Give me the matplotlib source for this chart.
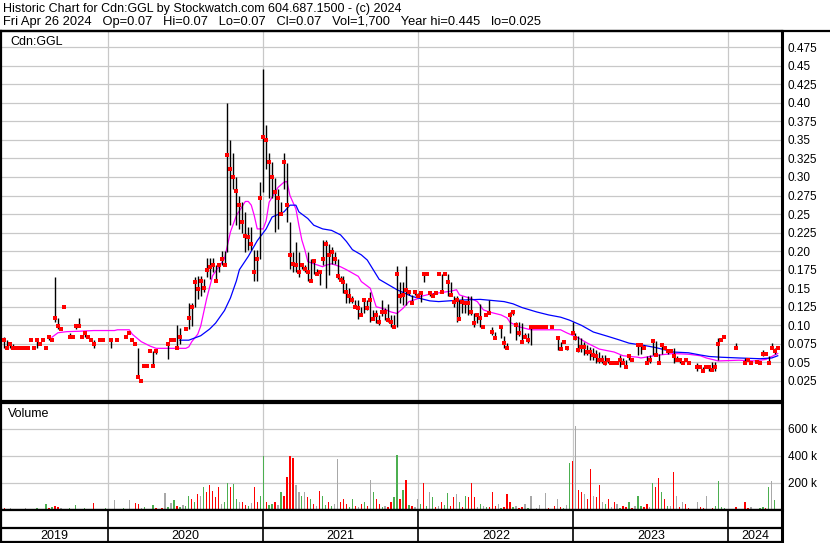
import numpy as np
import pandas as pd
import matplotlib
matplotlib.use('Agg')
import matplotlib.pyplot as plt
from matplotlib.lines import Line2D

plt.rcParams['font.family'] = ['Liberation Sans', 'DejaVu Sans']

# weekly bars for Cdn:GGL, first week ending 2019-05-03
start = '2019-05-03'
close = [.080,.069,.075,.069,.069,.069,.069,.069,.069,.080,
         .069,.080,.075,.080,.069,.084,.080,.110,.099,.095,
         .125,None,.084,.084,.099,.099,.084,.089,.084,.080,
         .075,None,.080,.080,None,None,.080,None,.080,None,
         None,.084,.089,.080,.075,.031,.025,.045,.045,.066,
         .045,.066,None,None,None,.075,.080,.080,.069,.084,
         None,.095,.110,.125,.159,.149,.160,.150,.175,.178,
         .181,.160,.181,.190,.181,.329,.311,.300,.281,.262,
         .239,.221,.219,.210,.172,.190,.271,.354,.350,.320,
         .300,.280,.271,.250,.320,.262,.195,.183,.181,.172,
         .181,.176,.172,.160,.187,.169,.172,.190,.210,.195,
         .199,.190,.166,.161,.159,.145,.139,.134,.125,.123,
         .114,.134,.123,.134,.109,.114,.105,.118,.118,.107,
         .105,.098,.169,.139,.141,.148,.145,.130,.145,.139,
         .144,.169,.169,.143,.139,.143,.169,.145,.169,.159,
         .141,.132,.134,.109,.132,.130,.130,.118,.103,.114,
         .110,.098,.114,.116,.091,.083,None,.098,.076,.069,
         .114,.118,.101,.089,.078,.084,.080,.098,.098,.098,
         .098,.098,.098,None,.098,None,.083,.068,.078,.069,
         None,.089,.083,.067,.071,.071,.064,.064,.060,.058,
         .053,.053,.049,.053,.049,.049,.049,.053,.049,.044,
         .058,.053,None,.074,.073,.069,.049,.053,.079,.060,
         .049,.073,.069,.065,.065,.058,.053,.053,.049,.053,
         .049,None,None,.044,.044,.039,.044,.044,.040,.044,
         .075,.080,.084,None,None,None,.069,None,None,.049,
         .053,.049,None,.051,.049,.062,.062,.049,.069,.065,.070]
high = [.084,.080,.075,.075,.069,.069,.069,.069,.069,.080,
        .069,.080,.075,.080,.069,.086,.080,.165,.110,.095,
        .125,None,.090,.084,.100,.110,.084,.090,.084,.080,
        .080,None,.080,.080,None,None,.080,None,.080,None,
        None,.084,.089,.080,.075,.070,.025,.045,.045,.066,
        .066,.066,None,None,None,.075,.080,.080,.100,.096,
        None,.095,.130,.130,.165,.167,.167,.163,.191,.191,
        .191,.181,.181,.200,.200,.400,.350,.332,.300,.275,
        .266,.253,.232,.232,.201,.201,.293,.446,.370,.332,
        .320,.298,.284,.266,.332,.319,.239,.199,.212,.199,
        .181,.181,.199,.190,.187,.176,.172,.215,.215,.210,
        .205,.199,.190,.166,.166,.157,.150,.139,.134,.134,
        .125,.136,.134,.145,.121,.121,.114,.134,.124,.129,
        .114,.114,.180,.159,.159,.180,.145,.141,.145,.144,
        .144,.169,.169,.145,.143,.143,.169,.169,.169,.169,
        .159,.139,.139,.134,.139,.132,.139,.139,.116,.116,
        .129,.098,.114,.134,.098,.091,None,.098,.085,.076,
        .118,.118,.105,.105,.103,.089,.089,.098,.098,.098,
        .098,.098,.098,None,.098,None,.083,.078,.078,.069,
        None,.105,.089,.085,.083,.078,.074,.071,.069,.067,
        .064,.060,.060,.056,.049,.049,.049,.060,.056,.053,
        .058,.053,None,.074,.076,.074,.058,.060,.080,.079,
        .062,.075,.069,.068,.065,.069,.058,.053,.049,.053,
        .049,None,None,.049,.044,.044,.044,.044,.051,.051,
        .083,.080,.084,None,None,None,.076,None,None,.056,
        .053,.049,None,.051,.049,.067,.062,.058,.076,.069,.070]
low = [.069,.069,.069,.069,.069,.069,.069,.069,.069,.080,
       .069,.069,.075,.080,.069,.080,.080,.104,.095,.095,
       .125,None,.084,.084,.095,.099,.084,.084,.084,.080,
       .069,None,.080,.080,None,None,.069,None,.080,None,
       None,.084,.089,.080,.075,.031,.025,.045,.045,.066,
       .045,.062,None,None,None,.055,.080,.080,.069,.075,
       None,.095,.095,.099,.125,.136,.140,.145,.165,.163,
       .172,.160,.172,.181,.181,.199,.235,.284,.235,.230,
       .225,.199,.201,.201,.160,.160,.190,.280,.311,.271,
       .271,.226,.230,.250,.284,.239,.176,.172,.172,.165,
       .176,.172,.160,.160,.169,.169,.154,.181,.150,.168,
       .183,.183,.163,.161,.143,.130,.130,.130,.125,.109,
       .114,.116,.121,.105,.109,.103,.101,.112,.107,.105,
       .098,.098,.098,.130,.128,.128,.141,.130,.141,.139,
       .132,.159,.169,.139,.139,.143,.169,.145,.169,.139,
       .139,.125,.105,.109,.116,.116,.114,.114,.098,.103,
       .098,.098,.114,.116,.087,.083,None,.083,.069,.069,
       .089,.114,.080,.085,.078,.084,.076,.074,.098,.098,
       .098,.098,.098,None,.098,None,.067,.068,.078,.067,
       None,.089,.080,.064,.064,.060,.060,.053,.053,.049,
       .049,.049,.047,.049,.049,.049,.049,.044,.049,.044,
       .053,.053,None,.060,.062,.069,.049,.049,.060,.060,
       .049,.062,.069,.062,.065,.049,.053,.049,.049,.053,
       .049,None,None,.038,.044,.039,.044,.039,.038,.038,
       .053,.080,.084,None,None,None,.069,None,None,.049,
       .053,.049,None,.051,.049,.058,.062,.049,.069,.062,.070]

# volume in thousands, colour: g up, r down, k unchanged
volume = [12,8,15,6,10,5,8,12,6,10,
          8,14,6,10,44,12,20,30,25,15,
          10,6,12,8,39,10,6,12,8,10,
          49,8,10,6,12,5,10,76,8,10,
          12,8,76,10,51,45,12,20,10,8,
          39,15,10,12,122,20,49,76,30,25,
          40,30,105,81,56,118,105,167,130,184,
          142,93,167,44,60,198,167,191,81,56,
          56,40,30,50,167,60,105,400,56,40,
          44,61,40,130,105,240,400,387,184,130,
          105,130,93,81,44,30,142,105,40,56,
          30,44,375,56,81,44,25,81,30,20,
          44,61,30,220,130,81,44,20,30,25,
          56,93,404,81,147,223,40,30,20,81,
          44,198,30,130,93,25,30,56,40,125,
          30,93,118,56,20,105,98,196,98,25,
          44,32,20,25,135,30,44,15,20,118,
          56,20,32,15,20,44,15,105,10,15,
          37,10,125,15,10,32,81,20,15,37,
          350,363,620,147,130,118,81,301,105,98,
          184,56,44,81,20,56,44,15,32,20,
          61,15,32,105,30,20,44,20,198,167,
          233,130,81,32,32,282,105,20,56,44,
          15,10,8,61,20,15,105,10,15,32,
          216,20,15,5,5,8,20,5,8,56,
          15,20,8,10,12,20,15,167,216,76,2]
vol_dir = ("rgkrkgrkgr" "kgrkgrgrrk" "rkgrgkrgkr" "rgkrgkrkgr" "gkkgrrkgrg"
           "grkrkgkgrg" "kggrgrkgrr" "rrrkggrggk" "rrgkrrggrg" "grkgrrrrkk"
           "gkrgrkrggr" "gkkrrrggrk" "rgrkgrrgkr" "rggrgrgrkk" "grgkgrkrgg"
           "rrkgrgrrrk" "gkgrrrkgrr" "rgkrrkgkkk" "kkkrkrkrgk" "grkrrkrrkr"
           "rkgrkrkgrr" "grkggrrkgr" "rgrgkrkrkr" "rkkkrrkkrg" "gggkkkrkkr"
           "rkkrggrgkgk")

# moving averages (week index, price)
ma_short_wk = [16,18,21,25,30,37,38,42,43,46,49,51,61,62,63,65,66,68,70,74,76,78,81,82,83,84,85,87,
               88,89,92,94,95,96,98,99,100,101,102,104,107,108,110,113,115,119,120,123,125,127,130,132,
               134,136,139,140,143,150,152,153,157,159,161,163,167,169,170,173,177,187,189,193,196,200,
               205,208,213,214,220,225,230,234,236,240,247,252,256,258,260]
ma_short = [.084,.090,.0915,.092,.093,.093,.094,.094,.088,.078,.072,.069,.069,.071,.078,.088,.099,.136,
            .167,.190,.226,.248,.267,.267,.262,.248,.230,.230,.241,.266,.286,.293,.294,.275,.257,.235,
            .215,.202,.186,.183,.179,.181,.183,.179,.175,.166,.159,.150,.125,.123,.118,.116,.123,.132,
            .136,.139,.142,.146,.148,.141,.136,.132,.121,.118,.114,.110,.104,.098,.094,.094,.090,.083,
            .076,.068,.064,.059,.057,.056,.060,.062,.061,.059,.056,.052,.053,.052,.054,.058,.062]
ma_long_wk = [59,62,64,66,69,71,74,76,78,79,82,85,88,90,94,96,98,99,102,104,107,110,113,115,117,120,
              122,124,126,132,137,143,146,153,160,168,171,174,179,183,187,190,194,198,203,207,210,215,
              219,225,230,234,237,241,247,254,258,260]
ma_long = [.080,.080,.083,.086,.095,.103,.120,.137,.160,.175,.193,.214,.230,.246,.253,.262,.262,.253,
           .244,.235,.230,.228,.222,.213,.202,.195,.188,.175,.162,.148,.139,.133,.132,.134,.135,.132,
           .129,.124,.118,.114,.111,.107,.100,.091,.085,.080,.076,.073,.070,.064,.063,.060,.058,.057,
           .056,.055,.056,.059]

title1 = "Historic Chart for Cdn:GGL by Stockwatch.com 604.687.1500 - (c) 2024"
title2 = ("Fri Apr 26 2024   Op=0.07   Hi=0.07   Lo=0.07   Cl=0.07   Vol=1,700   "
          "Year hi=0.445   lo=0.025")
years = [2019, 2020, 2021, 2022, 2023, 2024]

dates = pd.date_range(start, periods=len(close), freq='7D')
close = np.array(close, dtype=float)
high = np.array(high, dtype=float)
low = np.array(low, dtype=float)
x0, x1 = pd.Timestamp('2019-04-25'), pd.Timestamp('2024-05-06')
bounds = [pd.Timestamp(f'{y}-01-01') for y in years[1:]]

W, H = 830, 543
def box(l, t, r, b):
    return [l / W, 1 - b / H, (r - l) / W, (b - t) / H]

fig = plt.figure(figsize=(8.3, 5.43), dpi=100)
fig.text(3 / W, 1 - 9 / H, title1, fontsize=9, va='center')
fig.text(3 / W, 1 - 22 / H, title2, fontsize=9.25, va='center')
fig.add_artist(Line2D([0, 1], [1 - 31 / H] * 2, transform=fig.transFigure, color='k', lw=1.6))

grid = '#c8c8c8'

# price panel
ax = fig.add_axes(box(1, 31, 782, 401))
for b in bounds:
    ax.axvline(b, color=grid, lw=0.9, zorder=0)
for v in np.arange(0.025, 0.476, 0.025):
    ax.axhline(v, color=grid, lw=0.9, zorder=0)
ax.plot(dates[ma_short_wk], ma_short, color='#ff00ff', lw=0.9, zorder=2)
ax.plot(dates[ma_long_wk], ma_long, color='#0000ff', lw=0.9, zorder=2)
ax.vlines(dates, low, high, color='k', lw=1.0, zorder=3)
ax.plot(dates, close, 's', color='red', ms=2.4, mew=0, zorder=4)
ax.set_xlim(x0, x1)
ax.set_ylim(-0.002, 0.4968)
ax.yaxis.tick_right()
ticks = np.arange(0.025, 0.476, 0.025)
labels = []
for v in ticks:
    s = f"{v:.3f}"
    labels.append(s[:-1] if s.endswith('0') else s)
ax.set_yticks(ticks, labels)
ax.set_xticks([])
ax.tick_params(axis='y', length=0, pad=4, labelsize=8.5)
ax.text(0.012, 0.97, 'Cdn:GGL', transform=ax.transAxes, fontsize=9, va='center')

# volume panel
axv = fig.add_axes(box(1, 403, 782, 510))
for b in bounds:
    axv.axvline(b, color=grid, lw=0.9, zorder=0)
for v in [200, 400, 600]:
    axv.axhline(v, color=grid, lw=0.9, zorder=0)
cmap = {'g': '#4caf50', 'r': '#ff0000', 'k': '#a8a8a8'}
axv.bar(dates, volume, width=3.0, color=[cmap[c] for c in vol_dir], zorder=2)
axv.set_xlim(x0, x1)
axv.set_ylim(0, 790)
axv.yaxis.tick_right()
axv.set_yticks([200, 400, 600], ['200 k', '400 k', '600 k'])
axv.set_xticks([])
axv.tick_params(axis='y', length=0, pad=4, labelsize=8.5)
axv.text(0.009, 0.9, 'Volume', transform=axv.transAxes, fontsize=9, va='center')

# year strip
axy = fig.add_axes(box(1, 510, 782, 542))
axy.set_xlim(x0, x1)
axy.set_ylim(0, 1)
axy.axhline(0.44, color='k', lw=1.6)
for b in bounds:
    axy.axvline(b, color='k', lw=1.2)
edges = [x0] + bounds + [x1]
for y, a, c in zip(years, edges[:-1], edges[1:]):
    axy.text(a + (c - a) / 2, 0.2, str(y), ha='center', va='center', fontsize=9)
axy.set_xticks([])
axy.set_yticks([])

for a in (ax, axv, axy):
    for s in a.spines.values():
        s.set_color('k')
        s.set_linewidth(1.6)
    a.spines['right'].set_linewidth(2.2)

fig.savefig('out.png', dpi=100)
